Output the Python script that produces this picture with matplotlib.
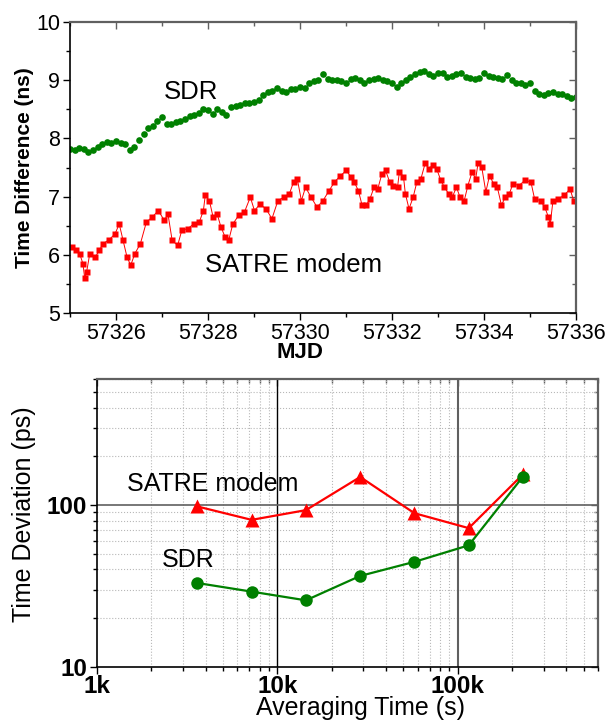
import numpy as np
import matplotlib
matplotlib.use("Agg")
import matplotlib.pyplot as plt
from matplotlib.ticker import MultipleLocator, FixedLocator, FixedFormatter, NullFormatter, LogLocator

plt.rcParams['font.family'] = ['Liberation Sans', 'DejaVu Sans']

# ---- top panel: time difference vs MJD ----
sdr_start = 57325.0
sdr_step = 0.1
sdr_ns = [
    7.82, 7.80, 7.84, 7.82, 7.77, 7.80, 7.86, 7.90, 7.93, 7.92,
    7.95, 7.92, 7.90, 7.80, 7.86, 7.98, 8.08, 8.18, 8.22, 8.30,
    8.36, 8.25, 8.24, 8.28, 8.30, 8.34, 8.38, 8.41, 8.44, 8.50,
    8.48, 8.42, 8.50, 8.46, 8.40, 8.54, 8.56, 8.58, 8.60, 8.60,
    8.63, 8.66, 8.74, 8.80, 8.82, 8.86, 8.82, 8.80, 8.85, 8.85,
    8.88, 8.86, 8.95, 8.99, 9.00, 9.10, 9.02, 9.00, 9.01, 8.98,
    8.96, 9.02, 9.03, 9.00, 8.95, 9.00, 9.02, 9.03, 9.00, 8.98,
    8.95, 8.88, 8.95, 9.00, 9.05, 9.10, 9.14, 9.15, 9.10, 9.07,
    9.12, 9.13, 9.06, 9.08, 9.10, 9.13, 9.05, 9.04, 9.02, 9.03,
    9.13, 9.08, 9.06, 9.04, 9.02, 9.09, 9.00, 8.96, 8.95, 8.92,
    8.95, 8.82, 8.76, 8.74, 8.78, 8.80, 8.76, 8.77, 8.72, 8.70,
    8.71,
]
sdr_mjd = sdr_start + sdr_step * np.arange(len(sdr_ns))

satre_mjd = [
    57325.04, 57325.13, 57325.21, 57325.28, 57325.32, 57325.36, 57325.43, 57325.55,
    57325.64, 57325.72, 57325.85, 57325.98, 57326.07, 57326.15, 57326.24, 57326.32,
    57326.41, 57326.53, 57326.66, 57326.79, 57326.92, 57327.05, 57327.13, 57327.22,
    57327.34, 57327.43, 57327.56, 57327.69, 57327.81, 57327.90, 57327.94, 57328.03,
    57328.11, 57328.20, 57328.28, 57328.37, 57328.45, 57328.54, 57328.67, 57328.79,
    57328.92, 57329.01, 57329.13, 57329.26, 57329.39, 57329.52, 57329.65, 57329.77,
    57329.86, 57329.94, 57330.03, 57330.12, 57330.24, 57330.37, 57330.50, 57330.63,
    57330.75, 57330.88, 57331.01, 57331.10, 57331.18, 57331.27, 57331.35, 57331.44,
    57331.52, 57331.61, 57331.69, 57331.78, 57331.86, 57331.95, 57332.03, 57332.12,
    57332.16, 57332.25, 57332.29, 57332.37, 57332.46, 57332.54, 57332.63, 57332.72,
    57332.80, 57332.89, 57332.97, 57333.06, 57333.14, 57333.23, 57333.31, 57333.40,
    57333.48, 57333.57, 57333.65, 57333.74, 57333.82, 57333.87, 57333.95, 57334.04,
    57334.12, 57334.21, 57334.29, 57334.38, 57334.46, 57334.55, 57334.63, 57334.76,
    57334.89, 57335.02, 57335.10, 57335.23, 57335.32, 57335.40, 57335.44, 57335.50,
    57335.61, 57335.74, 57335.87, 57335.95,
]
satre_ns = [
    6.13, 6.08, 6.02, 5.85, 5.60, 5.70, 6.02, 5.96,
    6.08, 6.19, 6.26, 6.36, 6.53, 6.26, 5.96, 5.82,
    6.02, 6.19, 6.56, 6.65, 6.76, 6.59, 6.70, 6.25,
    6.16, 6.42, 6.45, 6.53, 6.56, 6.76, 7.02, 6.93,
    6.65, 6.70, 6.48, 6.31, 6.25, 6.53, 6.68, 6.73,
    6.99, 6.76, 6.87, 6.79, 6.62, 6.93, 6.99, 7.05,
    7.25, 7.31, 6.93, 7.16, 6.99, 6.82, 6.93, 7.10,
    7.25, 7.36, 7.45, 7.34, 7.25, 7.10, 6.85, 6.85,
    6.96, 7.16, 7.13, 7.39, 7.45, 7.25, 7.19, 7.16,
    7.42, 7.34, 7.05, 6.79, 6.99, 7.25, 7.31, 7.57,
    7.48, 7.54, 7.48, 7.28, 7.16, 7.05, 6.99, 7.16,
    6.99, 6.93, 7.19, 7.42, 7.31, 7.57, 7.51, 7.08,
    7.36, 7.22, 7.16, 6.85, 6.99, 7.05, 7.22, 7.19,
    7.28, 7.25, 6.96, 6.93, 6.82, 6.65, 6.53, 6.93,
    6.96, 7.02, 7.13, 6.93,
]

# ---- bottom panel: TDEV ----
tau_s = [3600, 7200, 14400, 28800, 57600, 115200, 230400]
tdev_satre = [98, 81, 93, 149, 89, 72, 155]
tdev_sdr = [33.0, 29.2, 25.8, 36.5, 44.6, 56.4, 150]

GREEN = '#008000'
RED = '#ff0000'
GREY = '#606060'

fig = plt.figure(figsize=(6.13, 7.21), dpi=100)
W, H = 613.0, 721.0


def style_frame(ax):
    for sp in ('left', 'bottom'):
        ax.spines[sp].set_linewidth(1.2)
    for sp in ('right', 'top'):
        ax.spines[sp].set_linewidth(1.6)
        ax.spines[sp].set_color(GREY)


# top axes
ax1 = fig.add_axes([70 / W, 1 - 313 / H, 506 / W, 291 / H])
ax1.plot(satre_mjd, satre_ns, '-', color=RED, lw=0.7)
ax1.plot(satre_mjd, satre_ns, 's', color=RED, ms=4.8, mec='none')
ax1.plot(sdr_mjd, sdr_ns, 'o', color=GREEN, ms=4.8, mec='none')
ax1.set_xlim(57325, 57336)
ax1.set_ylim(5, 10)
ax1.xaxis.set_major_locator(MultipleLocator(2))
ax1.xaxis.set_minor_locator(MultipleLocator(1))
ax1.yaxis.set_major_locator(MultipleLocator(1))
ax1.yaxis.set_minor_locator(MultipleLocator(0.5))
ax1.xaxis.set_major_formatter(plt.FuncFormatter(lambda v, p: '%d' % v))
ax1.tick_params(axis='both', which='both', labelsize=15.5, direction='out', width=1)
ax1.tick_params(which='major', length=5, pad=2)
ax1.tick_params(which='minor', length=3)

top1 = ax1.secondary_xaxis('top')
top1.xaxis.set_major_locator(MultipleLocator(2))
top1.xaxis.set_minor_locator(MultipleLocator(1))
top1.tick_params(which='both', direction='in', labeltop=False, width=1, color=GREY)
top1.tick_params(which='major', length=5)
top1.tick_params(which='minor', length=3)
right1 = ax1.secondary_yaxis('right')
right1.yaxis.set_major_locator(MultipleLocator(1))
right1.yaxis.set_minor_locator(MultipleLocator(0.5))
right1.tick_params(which='both', direction='in', labelright=False, width=1, color=GREY)
right1.tick_params(which='major', length=5)
right1.tick_params(which='minor', length=3)
style_frame(ax1)
for s in (top1, right1):
    for sp in s.spines.values():
        sp.set_visible(False)

ax1.set_xlabel('MJD', fontsize=16, fontweight='bold', va='center')
ax1.xaxis.set_label_coords(0.455, -0.135)
ax1.set_ylabel('Time Difference (ns)', fontsize=15, fontweight='bold', va='center')
ax1.yaxis.set_label_coords(-0.09, 0.5)
ax1.text(57327.03, 8.80, 'SDR', fontsize=18.5, ha='left', va='center')
ax1.text(57327.93, 5.82, 'SATRE modem', fontsize=18.5, ha='left', va='center')

# bottom axes
ax2 = fig.add_axes([97 / W, 1 - 667 / H, 501 / W, 288 / H])
ax2.set_xscale('log')
ax2.set_yscale('log')
ax2.set_xlim(1e3, 6e5)
ax2.set_ylim(10, 600)
ax2.grid(True, which='minor', color='#b8b8b8', ls=':', lw=0.8)
ax2.axvline(1e4, color='black', lw=1.0)
ax2.axvline(1e5, color=GREY, lw=1.5)
ax2.axhline(100, color=GREY, lw=1.2)
ax2.plot(tau_s, tdev_satre, '-', color=RED, lw=1.6, marker='^', ms=10, mec='none')
ax2.plot(tau_s, tdev_sdr, '-', color=GREEN, lw=1.6, marker='o', ms=9, mec='none')
ax2.xaxis.set_major_locator(FixedLocator([1e3, 1e4, 1e5]))
ax2.xaxis.set_major_formatter(FixedFormatter(['1k', '10k', '100k']))
ax2.xaxis.set_minor_locator(LogLocator(base=10, subs=np.arange(2, 10)))
ax2.xaxis.set_minor_formatter(NullFormatter())
ax2.yaxis.set_major_locator(FixedLocator([10, 100]))
ax2.yaxis.set_major_formatter(FixedFormatter(['10', '100']))
ax2.yaxis.set_minor_locator(LogLocator(base=10, subs=np.arange(2, 10)))
ax2.yaxis.set_minor_formatter(NullFormatter())
ax2.tick_params(axis='both', which='both', direction='out', width=1)
ax2.tick_params(which='major', length=5, pad=2, labelsize=17.5)
ax2.tick_params(axis='x', which='major', pad=1)
ax2.tick_params(which='minor', length=3)
for lab in ax2.get_xticklabels() + ax2.get_yticklabels():
    lab.set_fontweight('bold')

top2 = ax2.secondary_xaxis('top')
top2.xaxis.set_minor_locator(LogLocator(base=10, subs=np.arange(2, 10)))
top2.xaxis.set_minor_formatter(NullFormatter())
top2.tick_params(which='both', direction='in', labeltop=False, width=1, color=GREY)
top2.tick_params(which='major', length=5)
top2.tick_params(which='minor', length=3)
right2 = ax2.secondary_yaxis('right')
right2.yaxis.set_minor_locator(LogLocator(base=10, subs=np.arange(2, 10)))
right2.yaxis.set_minor_formatter(NullFormatter())
right2.tick_params(which='both', direction='in', labelright=False, width=1, color=GREY)
right2.tick_params(which='major', length=5)
right2.tick_params(which='minor', length=3)
style_frame(ax2)
for s in (top2, right2):
    for sp in s.spines.values():
        sp.set_visible(False)

ax2.set_xlabel('Averaging Time (s)', fontsize=18, va='center')
ax2.xaxis.set_label_coords(0.526, -0.144)
ax2.set_ylabel('Time Deviation (ps)', fontsize=18, va='center')
ax2.yaxis.set_label_coords(-0.146, 0.53)
ax2.text(1460, 135, 'SATRE modem', fontsize=18, ha='left', va='center')
ax2.text(2300, 45.8, 'SDR', fontsize=18, ha='left', va='center')

fig.savefig('out.png', dpi=100)
